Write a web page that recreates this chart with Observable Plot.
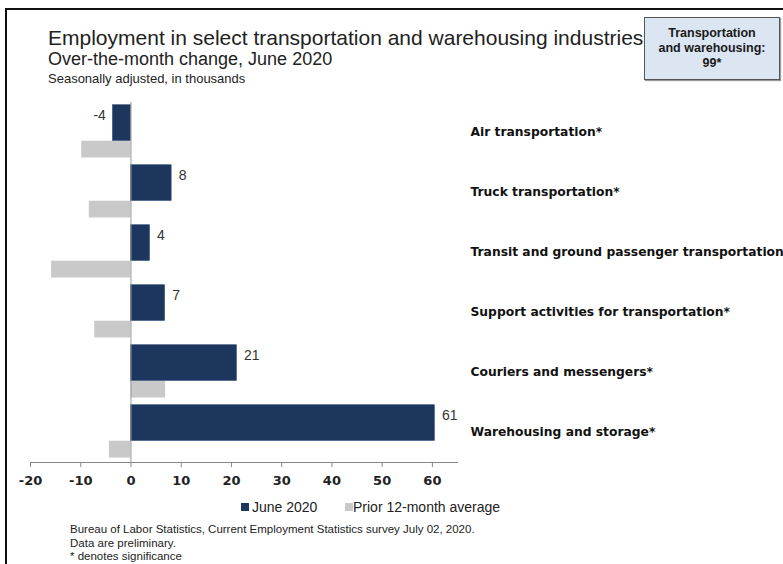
<!DOCTYPE html>
<html>
<head>
<meta charset="utf-8">
<script src="https://cdn.jsdelivr.net/npm/d3@7"></script>
<script src="https://cdn.jsdelivr.net/npm/@observablehq/plot@0.6"></script>
<style>
  html, body { margin: 0; padding: 0; background: #fff; }
  #wrap { position: relative; width: 783px; height: 564px; overflow: hidden; font-family: "Liberation Sans", Arial, sans-serif; color: #222; }
  #frameline { position: absolute; left: 5px; top: 8px; width: 900px; height: 700px; border-top: 2px solid #111; border-left: 2px solid #111; }
  .abs { position: absolute; white-space: nowrap; }
  #chart { position: absolute; left: 0; top: 0; }
  #title { left: 48px; top: 27px; font-size: 21px; line-height: 21px; }
  #subtitle { left: 48px; top: 50px; font-size: 18px; line-height: 18px; }
  #unit { left: 48px; top: 72px; font-size: 13px; line-height: 13px; }
  #box { left: 644px; top: 17px; width: 134px; height: 61px; background: #dce6f2; border: 1px solid #555;
         display: flex; align-items: center; justify-content: center; text-align: center;
         font-weight: bold; font-size: 12.5px; line-height: 15px; color: #1a1a1a; box-shadow: 1px 1px 1px #999; }
  .sw { position: absolute; width: 8px; height: 8px; }
  .leg { font-size: 14px; line-height: 14px; top: 500px; color: #222; }
  #notes { left: 70px; top: 523px; font-size: 11.5px; line-height: 13.5px; color: #222; }
</style>
</head>
<body>
<div id="wrap">
  <div id="frameline"></div>
  <div id="chart"></div>
  <div class="abs" id="title">Employment in select transportation and warehousing industries</div>
  <div class="abs" id="subtitle">Over-the-month change, June 2020</div>
  <div class="abs" id="unit">Seasonally adjusted, in thousands</div>
  <div class="abs" id="box"><div>Transportation<br>and warehousing:<br>99*</div></div>
  <div class="sw" id="sw1" style="left:241px; top:503px;"></div>
  <div class="abs leg" id="leg1" style="left:252px;"></div>
  <div class="sw" id="sw2" style="left:345px; top:503px;"></div>
  <div class="abs leg" id="leg2" style="left:353px;"></div>
  <div class="abs" id="notes">Bureau of Labor Statistics, Current Employment Statistics survey July 02, 2020.<br>Data are preliminary.<br>* denotes significance</div>
</div>
<script>
const categories = [
  "Air transportation*",
  "Truck transportation*",
  "Transit and ground passenger transportation",
  "Support activities for transportation*",
  "Couriers and messengers*",
  "Warehousing and storage*"
];
const june2020 = [-3.6, 8.1, 3.8, 6.8, 21.1, 60.5];
const prior12 = [-9.8, -8.3, -15.8, -7.2, 6.9, -4.3];
const seriesNames = ["June 2020", "Prior 12-month average"];
const tickValues = [-20, -10, 0, 10, 20, 30, 40, 50, 60];
const xDomain = [-20, 65];

const navy = "#1c365e";
const gray = "#c9c9c9";
const boldFont = "'DejaVu Sans', Verdana, sans-serif";

const rows = categories.map((c, i) => ({cat: c, june: june2020[i], prior: prior12[i]}));

document.getElementById("sw1").style.background = navy;
document.getElementById("sw2").style.background = gray;
document.getElementById("leg1").textContent = seriesNames[0];
document.getElementById("leg2").textContent = seriesNames[1];

const chart = Plot.plot({
  width: 783,
  height: 564,
  marginTop: 102,
  marginBottom: 102,
  marginLeft: 30,
  marginRight: 326,
  style: {fontFamily: "'Liberation Sans', Arial, sans-serif", background: "transparent", color: "#222", overflow: "visible"},
  x: {domain: xDomain, axis: null},
  y: {domain: categories, type: "band", padding: 0, axis: null},
  marks: [
    Plot.barX(rows, {x: "prior", y: "cat", fill: gray, insetTop: 38.7, insetBottom: 4.5}),
    Plot.barX(rows, {x: "june", y: "cat", fill: navy, stroke: "#3a5680", strokeWidth: 0.6, insetTop: 2.7, insetBottom: 21.5}),
    Plot.ruleX([0], {stroke: "#999", strokeWidth: 1}),
    Plot.frame({anchor: "bottom", stroke: "#888", strokeWidth: 1}),
    Plot.axisX({ticks: tickValues, tickSize: 5, tickPadding: 8, tickFormat: d => String(d),
                fontSize: 13, fontWeight: "bold", fontFamily: boldFont, stroke: "#888", color: "#222"}),
    Plot.text(rows.filter(d => d.june >= 0), {x: "june", y: "cat", text: d => String(Math.round(d.june)),
                textAnchor: "start", dx: 7, dy: -17, fontSize: 14, fill: "#333"}),
    Plot.text(rows.filter(d => d.june < 0), {x: "june", y: "cat", text: d => String(Math.round(d.june)),
                textAnchor: "end", dx: -7, dy: -17, fontSize: 14, fill: "#333"}),
    Plot.text(categories, {y: d => d, text: d => d, frameAnchor: "right", dx: 13, dy: -0.5,
                textAnchor: "start", fontWeight: "bold", fontSize: 12.3, fontFamily: boldFont, fill: "#111"})
  ]
});
document.getElementById("chart").appendChild(chart);
</script>
</body>
</html>
